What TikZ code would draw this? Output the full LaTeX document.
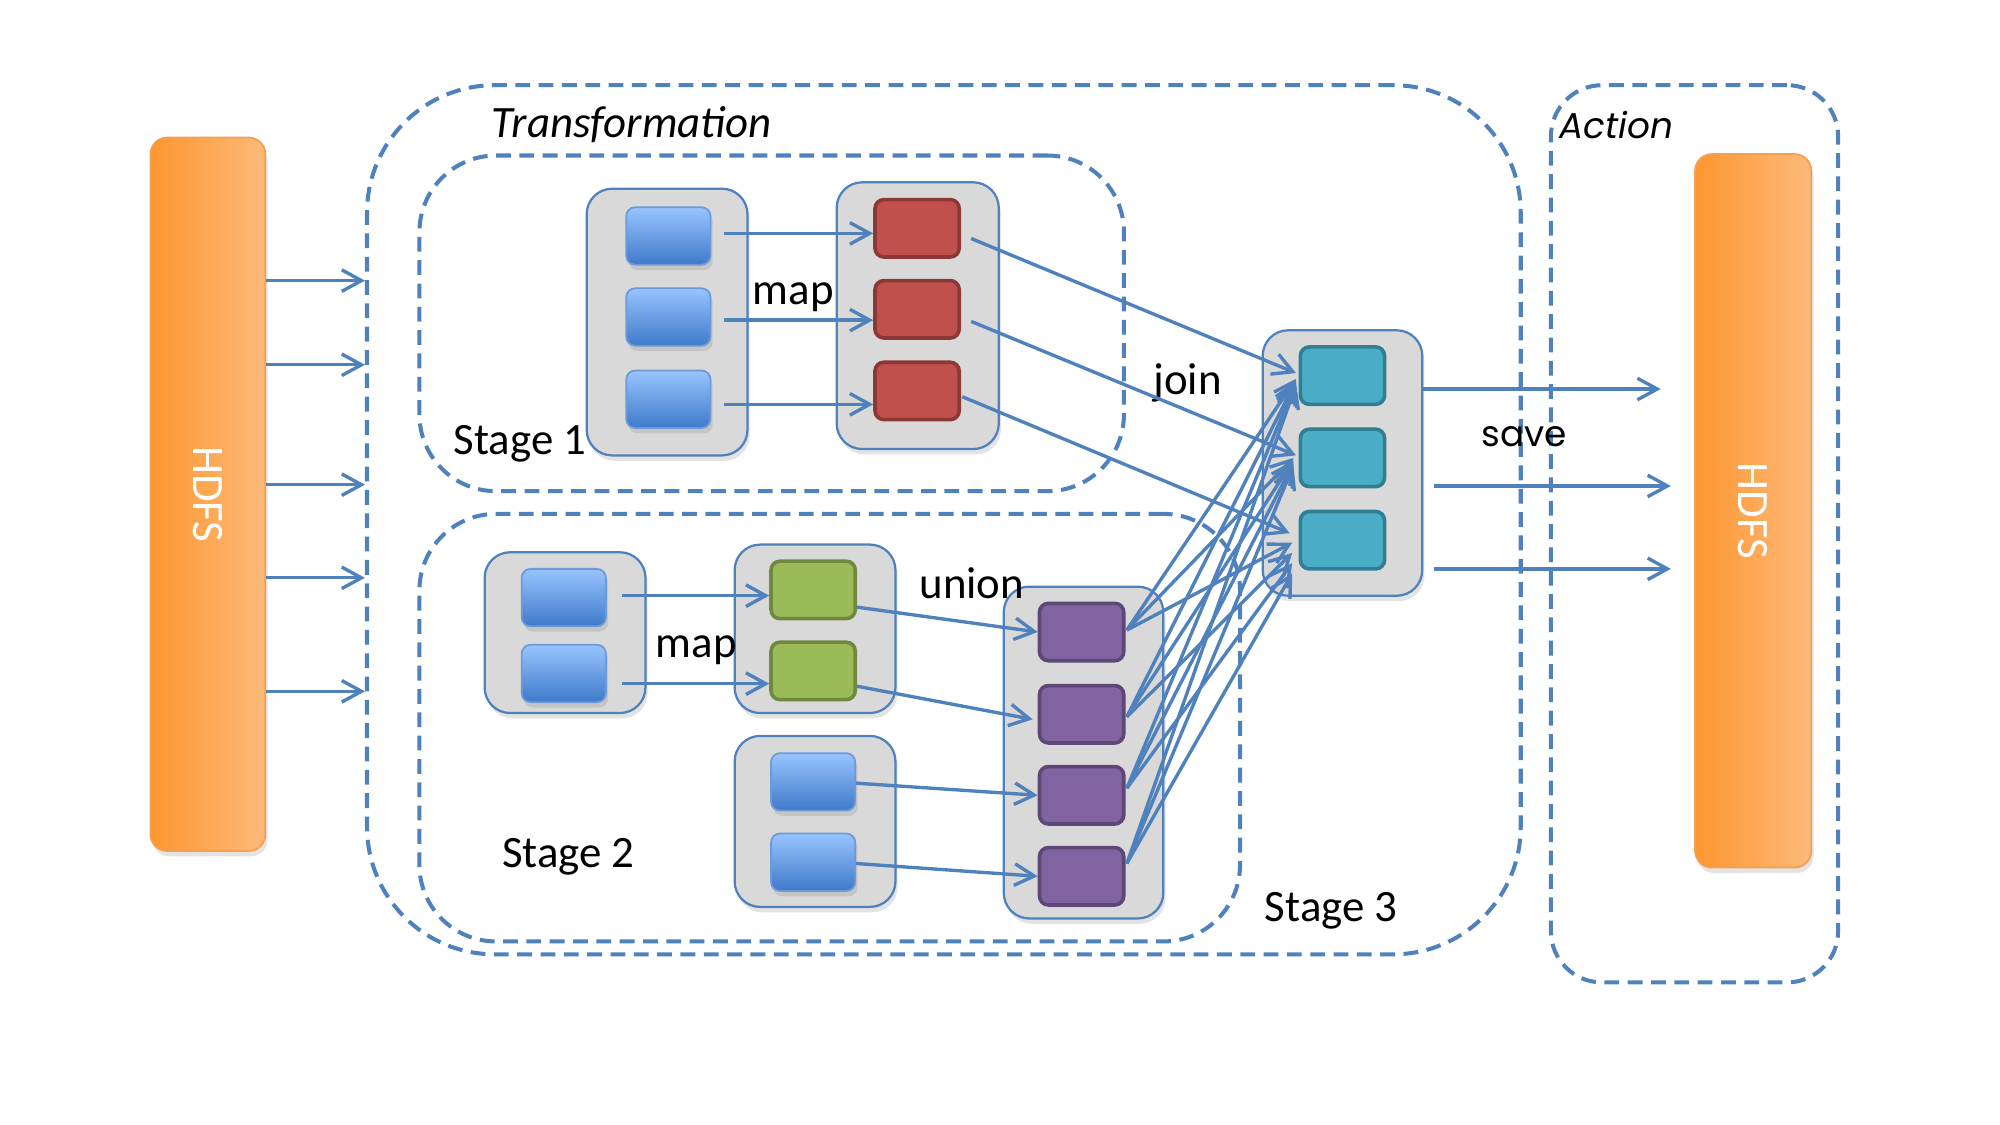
\documentclass[tikz,border=0pt]{standalone}
\usepackage{fontspec}
\setmainfont{Carlito}
\newfontfamily\geofont{Poppins}
\usetikzlibrary{arrows.meta,shadows}

\definecolor{lineblue}{RGB}{79,129,189}
\definecolor{grpfill}{RGB}{217,217,217}
\definecolor{sqtop}{RGB}{152,196,255}
\definecolor{sqbot}{RGB}{62,122,202}
\definecolor{sqedge}{RGB}{110,155,215}
\definecolor{redf}{RGB}{192,80,77}
\definecolor{redd}{RGB}{140,56,54}
\definecolor{greenf}{RGB}{155,187,89}
\definecolor{greend}{RGB}{113,137,63}
\definecolor{purf}{RGB}{128,100,162}
\definecolor{purd}{RGB}{92,71,118}
\definecolor{cyanf}{RGB}{75,172,198}
\definecolor{cyand}{RGB}{49,125,145}
\definecolor{orL}{RGB}{253,150,48}
\definecolor{orR}{RGB}{253,186,122}
\definecolor{orE}{RGB}{245,160,80}

\begin{document}
\begin{tikzpicture}[x=0.01cm,y=-0.01cm,
  arr/.style={draw=lineblue, line width=0.75pt, -{Straight Barb[length=4.4pt,width=4.8pt]}},
  dashbox/.style={draw=lineblue, line width=0.9pt, dash pattern=on 3.3pt off 1.9pt, inner sep=0},
  softshadow/.style={drop shadow={shadow xshift=0.5pt, shadow yshift=-1.2pt, opacity=0.22}},
  grp/.style={draw=lineblue, line width=0.5pt, fill=grpfill, rounded corners=0.2cm, inner sep=0, softshadow},
  sq/.style={minimum width=0.66cm, minimum height=0.45cm, rounded corners=0.07cm, inner sep=0, line width=0.8pt},
  bsq/.style={sq, draw=sqedge, line width=0.4pt, top color=sqtop, bottom color=sqbot, softshadow},
  rsq/.style={sq, draw=redd, fill=redf},
  gsq/.style={sq, draw=greend, fill=greenf},
  psq/.style={sq, draw=purd, fill=purf},
  csq/.style={sq, draw=cyand, fill=cyanf},
  hdfs/.style={left color=orL, right color=orR, draw=orE, line width=0.4pt, rounded corners=0.13cm,
    minimum width=0.9cm, minimum height=5.59cm, inner sep=0, softshadow},
  hdfstext/.style={rotate=-90, text=white, inner sep=0, font=\fontsize{10}{12}\selectfont},
  lbl/.style={inner sep=0, font=\fontsize{10}{12}\selectfont},
  geolbl/.style={inner sep=0, font=\geofont\fontsize{8}{10}\selectfont}
]
\useasboundingbox (0,0) rectangle (1568,882);

% dashed regions
\node[dashbox, minimum width=9.04cm, minimum height=6.81cm, rounded corners=1cm] (trans) at (740,407.5) {};
\node[dashbox, minimum width=2.25cm, minimum height=7.03cm, rounded corners=0.4cm] (action) at (1328.5,418.5) {};
\node[dashbox, minimum width=5.52cm, minimum height=2.63cm, rounded corners=0.6cm] (st1) at (605,253.5) {};
\node[dashbox, minimum width=6.43cm, minimum height=3.35cm, rounded corners=0.6cm] (st2) at (650.5,570.5) {};

% titles
\node[lbl, anchor=west, font=\fontsize{10}{12}\selectfont\itshape] (ttrans) at (385,98) {Transformation};
\node[geolbl, anchor=west, font=\geofont\fontsize{8}{10}\selectfont\itshape] (tact) at (1222,98) {Action};
\node[lbl, anchor=west] (ts1) at (355,348) {Stage 1};
\node[lbl, anchor=west] (ts2) at (393,672) {Stage 2};
\node[lbl, anchor=west] (ts3) at (991,714) {Stage 3};

% HDFS storage bars
\node[hdfs] (hl) at (163,387.5) {};
\node[hdfstext] (hlt) at (hl.center) {HDFS};
\node[hdfs, minimum width=0.91cm] (hr) at (1374.5,400.5) {};
\node[hdfstext] (hrt) at (hr.center) {HDFS};

% groups of partitions
\node[grp, minimum width=1.26cm, minimum height=2.09cm] (g1) at (523,252.5) {};
\node[grp, minimum width=1.27cm, minimum height=2.09cm] (g2) at (719.5,247.5) {};
\node[grp, minimum width=1.25cm, minimum height=2.08cm] (g3) at (1052.5,363) {};
\node[grp, minimum width=1.26cm, minimum height=1.26cm] (g4) at (443,496) {};
\node[grp, minimum width=1.26cm, minimum height=1.32cm] (g5) at (639,493) {};
\node[grp, minimum width=1.26cm, minimum height=1.34cm] (g6) at (639,644) {};
\node[grp, minimum width=1.25cm, minimum height=2.60cm] (g7) at (849.5,590) {};

% partitions
\node[bsq] (b1) at (524,185) {};
\node[bsq] (b2) at (524,248.5) {};
\node[bsq] (b3) at (524,313) {};
\node[rsq] (r1) at (719,179) {};
\node[rsq] (r2) at (719,242.5) {};
\node[rsq] (r3) at (719,306.5) {};
\node[csq] (c1) at (1052.5,294.5) {};
\node[csq] (c2) at (1052.5,359) {};
\node[csq] (c3) at (1052.5,423.5) {};
\node[bsq] (a1) at (442,468.5) {};
\node[bsq] (a2) at (442,528) {};
\node[gsq] (e1) at (637.5,462.5) {};
\node[gsq] (e2) at (637.5,526) {};
\node[bsq] (d1) at (637.5,613) {};
\node[bsq] (d2) at (637.5,676) {};
\node[psq] (p1) at (848,495.5) {};
\node[psq] (p2) at (848,560) {};
\node[psq] (p3) at (848,623.5) {};
\node[psq] (p4) at (848,687) {};

% operation labels
\node[lbl] (lmap1) at (622,233) {map};
\node[lbl] (lmap2) at (546,510) {map};
\node[lbl] (lunion) at (762,457) {union};
\node[lbl] (ljoin) at (931,300) {join};
\node[geolbl] (lsave) at (1195,342) {save};

% reading from HDFS
\foreach \y in {220,286,380,453,542}
  \draw[arr] (hl.east |- 0,\y) -- (trans.west |- 0,\y);

% stage 1: map
\draw[arr, shorten <=0.1cm] ([yshift=0.02cm]b1.east) -- ([yshift=0.02cm]b1.east -| r1.west);
\draw[arr, shorten <=0.1cm] ([yshift=-0.025cm]b2.east) -- ([yshift=-0.025cm]b2.east -| r2.west);
\draw[arr, shorten <=0.1cm] ([yshift=-0.04cm]b3.east) -- ([yshift=-0.04cm]b3.east -| r3.west);

% join
\draw[arr] ([xshift=0.08cm,yshift=-0.08cm]r1.east) -- ([xshift=-0.02cm,yshift=0.02cm]c1.west);
\draw[arr] ([xshift=0.08cm,yshift=-0.095cm]r2.east) -- ([xshift=-0.02cm,yshift=0.02cm]c2.west);
\draw[arr] ([xshift=0.01cm,yshift=-0.045cm]r3.east) -- ([xshift=-0.07cm,yshift=0.055cm]c3.west);

% stage 2: map
\draw[arr, shorten <=0.12cm] ([yshift=0.015cm]a1.east) -- ([yshift=0.015cm]a1.east -| e1.west);
\draw[arr, shorten <=0.12cm] ([yshift=-0.08cm]a2.east) -- ([yshift=-0.08cm]a2.east -| e2.west);

% stage 2: union
\draw[arr] ([yshift=-0.135cm]e1.east) -- (p1.west);
\draw[arr] ([yshift=-0.12cm]e2.east) -- ([xshift=-0.04cm,yshift=-0.04cm]p2.west);
\draw[arr] ([yshift=-0.01cm]d1.east) -- (p3.west);
\draw[arr] ([yshift=-0.01cm]d2.east) -- (p4.west);

% stage 3: join of union output
\foreach \i/\s in {1/0.015,2/-0.02,3/0.055,4/0.10} {
  \draw[arr] ([xshift=0.01cm,yshift=\s cm]p\i.east) -- ([xshift=-0.02cm,yshift={-(0.01+0.015*\i)*1cm}]c1.west);
  \draw[arr] ([xshift=0.01cm,yshift=\s cm]p\i.east) -- ([xshift=-0.04cm,yshift={-(0.02*\i-0.02)*1cm}]c2.west);
  \draw[arr] ([xshift=0.01cm,yshift=\s cm]p\i.east) -- ([xshift=-0.05cm,yshift={-(0.08*\i-0.06)*1cm}]c3.west);
}

% save to HDFS
\coordinate (s1) at (1302,305);
\coordinate (s2) at (1310,381);
\coordinate (s3) at (1310,446);
\draw[arr] (g3.east |- s1) -- (s1);
\draw[arr, shorten <=0.08cm] (g3.east |- s2) -- (s2);
\draw[arr, shorten <=0.08cm] (g3.east |- s3) -- (s3);
\end{tikzpicture}
\end{document}
